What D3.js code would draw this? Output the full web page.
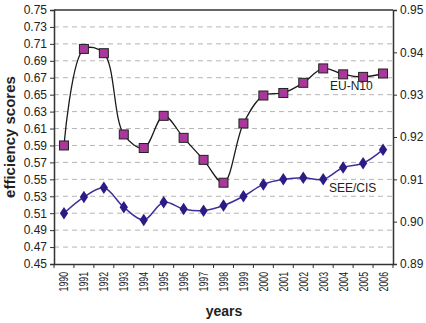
<!DOCTYPE html>
<html>
<head>
<meta charset="utf-8">
<script src="https://cdn.jsdelivr.net/npm/d3@7"></script>
<style>
  body { margin: 0; background: #fff; }
  svg { display: block; font-family: "Liberation Sans", Arial, sans-serif; }
</style>
</head>
<body>
<div id="chart"></div>
<script>
// datos
const years = ["1990","1991","1992","1993","1994","1995","1996","1997","1998","1999","2000","2001","2002","2003","2004","2005","2006"]
const euN10 = [0.590,0.704,0.699,0.603,0.587,0.625,0.599,0.573,0.546,0.616,0.649,0.652,0.664,0.681,0.674,0.671,0.675]
const seeCis = [0.510,0.529,0.540,0.517,0.502,0.523,0.515,0.513,0.519,0.530,0.544,0.550,0.552,0.550,0.564,0.569,0.585]
const leftTicks = d3.range(0.45, 0.7501, 0.02)
const rightTicks = [0.89, 0.90, 0.91, 0.92, 0.93, 0.94, 0.95]

const W = 426, H = 323
const plotLeft = 54, plotRight = 393, plotTop = 10, plotBottom = 264

const svg = d3.select("#chart").append("svg")
  .attr("width", W)
  .attr("height", H)

// escalas
const x = d3.scaleBand().domain(years).range([plotLeft, plotRight]).padding(0)
const y = d3.scaleLinear().domain([0.45, 0.75]).range([plotBottom, plotTop])
const y2 = d3.scaleLinear().domain([0.89, 0.95]).range([plotBottom, plotTop])
const cx = d => x(d) + x.bandwidth() / 2

// rejilla
svg.append("g")
  .selectAll("line")
  .data(leftTicks.slice(1, -1))
  .enter().append("line")
  .attr("x1", plotLeft).attr("x2", plotRight)
  .attr("y1", d => y(d)).attr("y2", d => y(d))
  .attr("stroke", "#b5b5b5")
  .attr("stroke-dasharray", "5,4")

// marco
svg.append("line")
  .attr("x1", plotLeft).attr("x2", plotRight).attr("y1", plotTop).attr("y2", plotTop)
  .attr("stroke", "#333").attr("stroke-width", 1.5)

// ejes
const yAxis = svg.append("g")
  .attr("transform", `translate(${plotLeft},0)`)
  .call(d3.axisLeft(y).tickValues(leftTicks).tickFormat(d3.format(".2f")).tickSize(4).tickPadding(3))
const y2Axis = svg.append("g")
  .attr("transform", `translate(${plotRight},0)`)
  .call(d3.axisRight(y2).tickValues(rightTicks).tickFormat(d3.format(".2f")).tickSize(4).tickPadding(3))
const xAxis = svg.append("g")
  .attr("transform", `translate(0,${plotBottom})`)
  .call(d3.axisBottom(x).tickSize(0).tickFormat(""))

;[yAxis, y2Axis, xAxis].forEach(g => {
  g.select(".domain").attr("stroke", "#333").attr("stroke-width", 1.5)
  g.selectAll(".tick line").attr("stroke", "#333")
  g.selectAll("text").attr("fill", "#222").style("font-size", "12px")
})

// marcas entre categorias
svg.append("g")
  .selectAll("line")
  .data(years.concat(["end"]))
  .enter().append("line")
  .attr("x1", (d, i) => plotLeft + i * x.bandwidth())
  .attr("x2", (d, i) => plotLeft + i * x.bandwidth())
  .attr("y1", plotBottom).attr("y2", plotBottom + 4)
  .attr("stroke", "#333")

// etiquetas de años (comprimidas)
svg.append("g")
  .selectAll("text")
  .data(years)
  .enter().append("text")
  .attr("transform", d => `translate(${cx(d) + 4.5},${plotBottom + 8}) rotate(-90) scale(0.7,1)`)
  .attr("text-anchor", "end")
  .style("font-size", "12.5px")
  .attr("fill", "#222")
  .text(d => d)

// titulos
svg.append("text")
  .attr("transform", `translate(15,${(plotTop + plotBottom) / 2}) rotate(-90)`)
  .attr("text-anchor", "middle")
  .style("font-size", "15px").style("font-weight", "bold")
  .attr("fill", "#222")
  .text("efficiency scores")

svg.append("text")
  .attr("x", 224).attr("y", 316)
  .attr("text-anchor", "middle")
  .style("font-size", "14px").style("font-weight", "bold")
  .attr("fill", "#222")
  .text("years")

// lineas
const line = d3.line()
  .x((d, i) => cx(years[i]))
  .y(d => y(d))
  .curve(d3.curveCatmullRom.alpha(0.5))

svg.append("path")
  .datum(seeCis)
  .attr("d", line)
  .attr("fill", "none")
  .attr("stroke", "#3b2f9a")
  .attr("stroke-width", 1.5)

svg.append("path")
  .datum(euN10)
  .attr("d", line)
  .attr("fill", "none")
  .attr("stroke", "#1a1a1a")
  .attr("stroke-width", 1.3)

// marcadores
const diamond = d3.symbol().type(d3.symbolDiamond).size(45)
svg.append("g")
  .selectAll("path")
  .data(seeCis)
  .enter().append("path")
  .attr("d", diamond)
  .attr("transform", (d, i) => `translate(${cx(years[i])},${y(d)}) scale(1.15,1)`)
  .attr("fill", "#2b1c85")

svg.append("g")
  .selectAll("rect")
  .data(euN10)
  .enter().append("rect")
  .attr("x", (d, i) => cx(years[i]) - 4.5)
  .attr("y", d => y(d) - 4.5)
  .attr("width", 9).attr("height", 9)
  .attr("fill", "#a8399b")
  .attr("stroke", "#222")
  .attr("stroke-width", 1)

// leyendas en linea
svg.append("text")
  .attr("x", 330).attr("y", 90)
  .style("font-size", "12px").attr("fill", "#222")
  .text("EU-N10")
svg.append("text")
  .attr("x", 329).attr("y", 192)
  .style("font-size", "12px").attr("fill", "#222")
  .text("SEE/CIS")
</script>
</body>
</html>
